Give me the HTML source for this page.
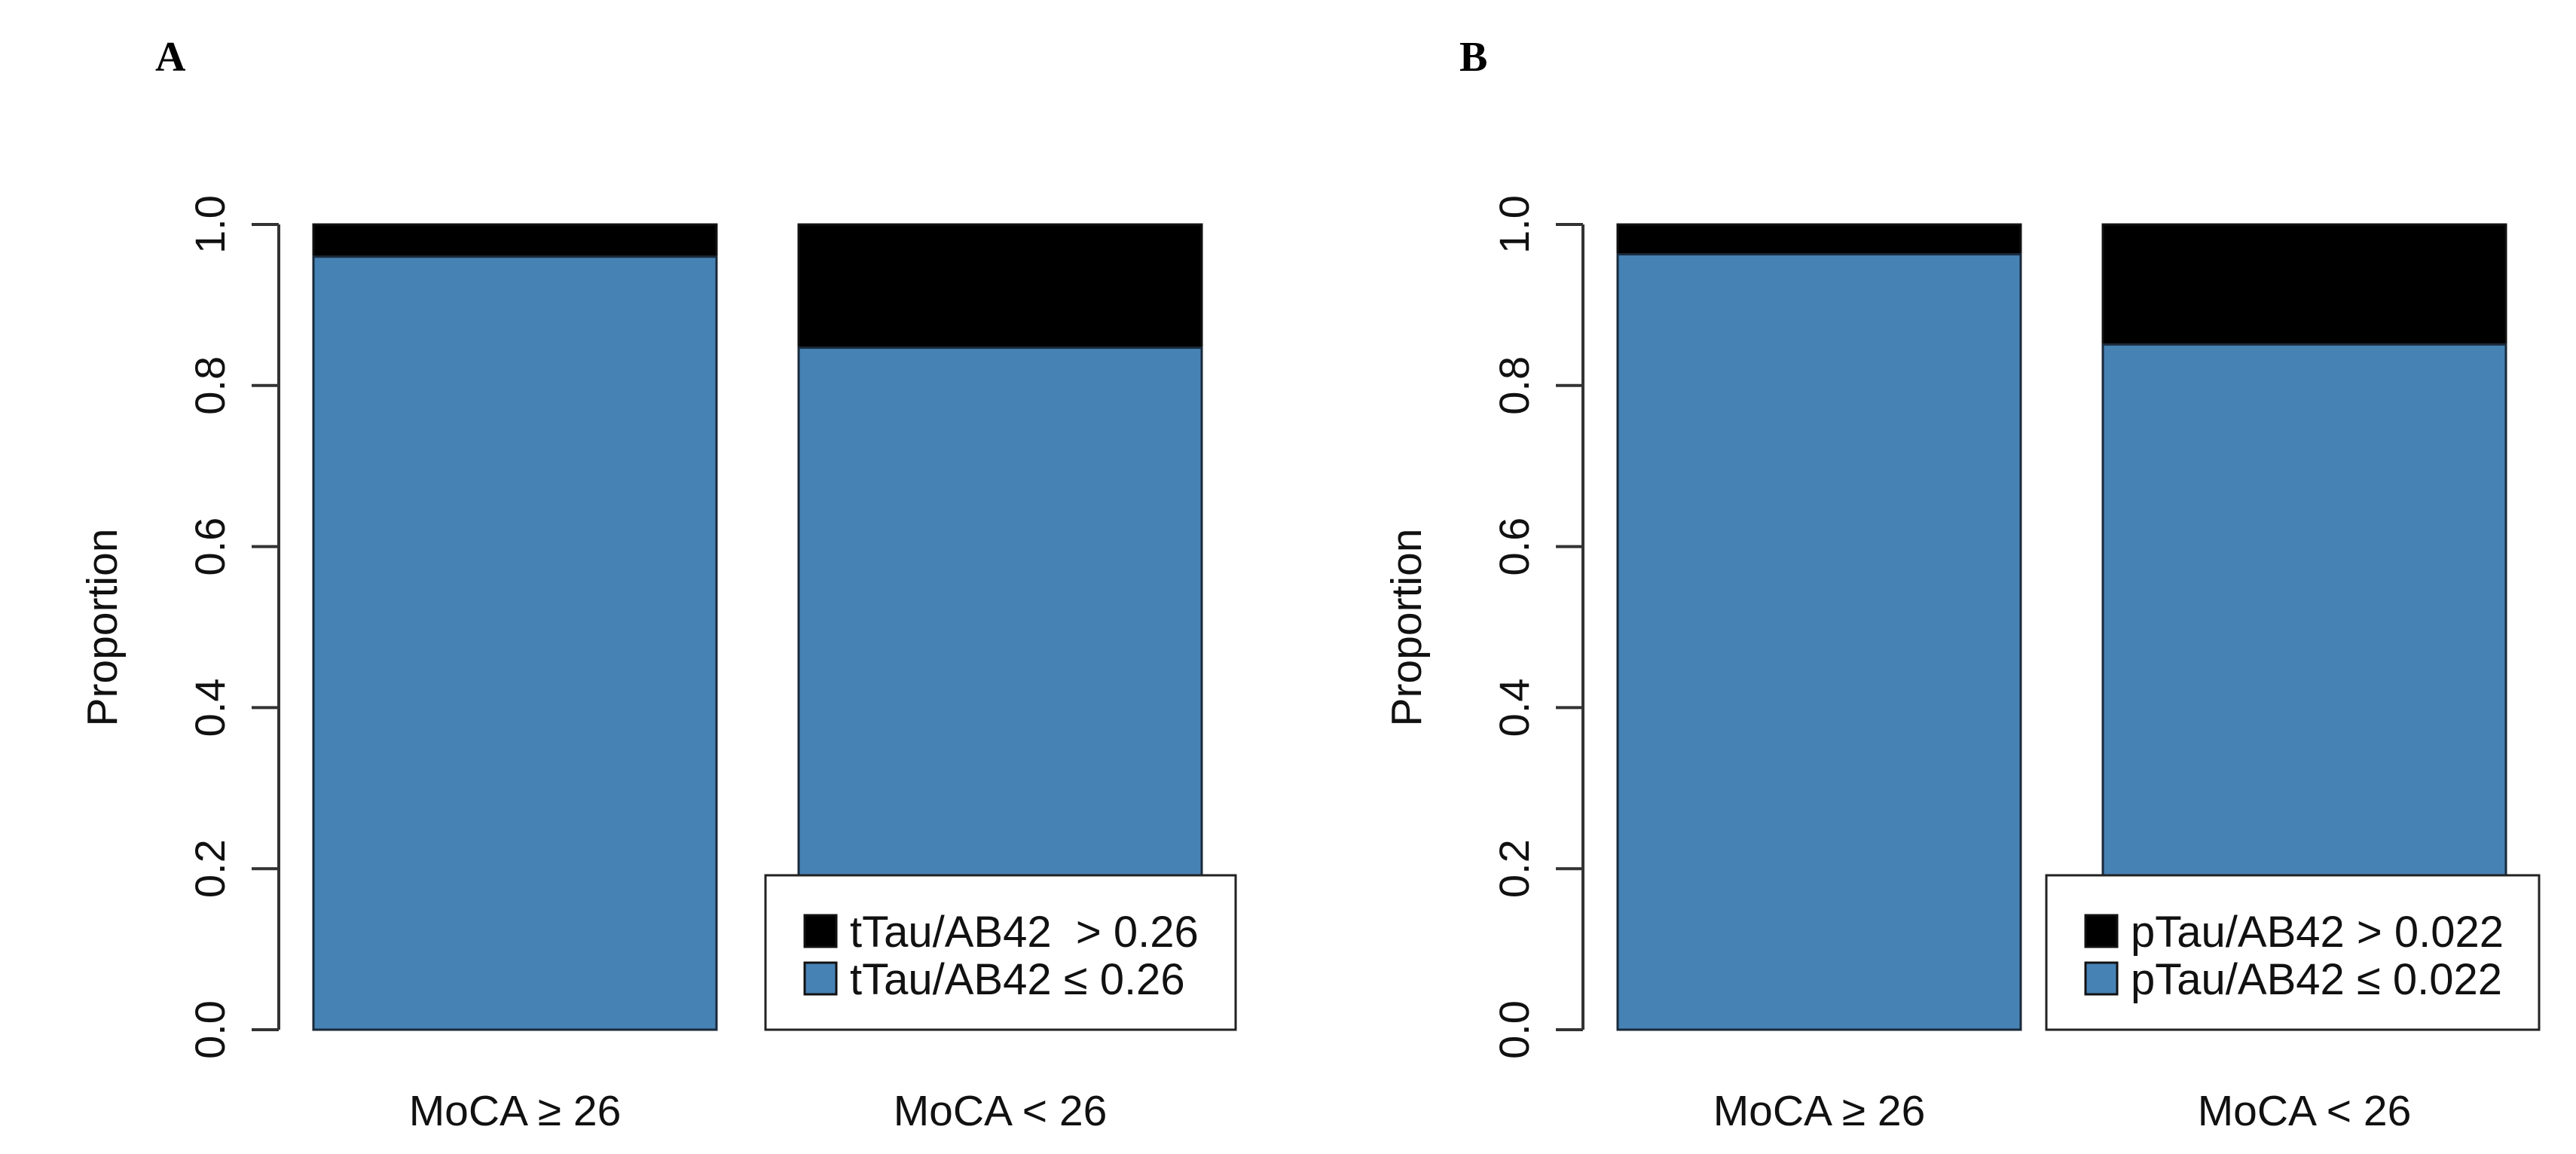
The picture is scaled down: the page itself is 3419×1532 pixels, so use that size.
<!DOCTYPE html>
<html><head><meta charset="utf-8"><style>
html,body{margin:0;padding:0;background:#fff;}
svg{display:block;font-family:"Liberation Sans",sans-serif;}
</style></head><body>
<svg id="chart" width="3419" height="1532" viewBox="0 0 3419 1532" xmlns="http://www.w3.org/2000/svg"></svg>
<script>
const categories = ["MoCA \u2265 26", "MoCA < 26"];
const panelALow = [0.96, 0.847];
const panelBLow = [0.963, 0.851];
const yTicks = [0, 0.2, 0.4, 0.6, 0.8, 1.0];
const tickLabels = ["0.0", "0.2", "0.4", "0.6", "0.8", "1.0"];
const legendA = ["tTau/AB42\u00a0\u00a0> 0.26", "tTau/AB42 \u2264 0.26"];
const legendB = ["pTau/AB42 > 0.022", "pTau/AB42 \u2264 0.022"];

const NS = "http://www.w3.org/2000/svg";
const svg = document.getElementById("chart");
function mk(tag, attrs, parent, text) {
  const e = document.createElementNS(NS, tag);
  for (const k in attrs) e.setAttribute(k, attrs[k]);
  if (text !== undefined) e.textContent = text;
  (parent || svg).appendChild(e);
  return e;
}
const Y0 = 1367, Y1 = 298;
function y(v) { return Y0 - v * (Y0 - Y1); }

function panel(off, letter, lows, legend, legW, name) {
  const g = mk("g", {});
  
  
  const lab = mk("text", {x: 206 + off, y: 94, "font-family": "Liberation Serif, serif", "font-weight": "bold", "font-size": 56}, g, letter);
  
  
  const ax = 370 + off;
  const axis = mk("g", {}, g);
  
  
  mk("line", {x1: ax, x2: ax, y1: y(0), y2: y(1), stroke: "#333", "stroke-width": 4}, axis);
  yTicks.forEach((t, i) => {
    mk("line", {x1: ax - 36, x2: ax, y1: y(t), y2: y(t), stroke: "#333", "stroke-width": 4}, axis);
    const tl = mk("text", {x: 0, y: 0, "font-size": 56, "text-anchor": "middle", transform: `translate(${ax - 72},${y(t)}) rotate(-90)`, fill: "#111"}, axis, tickLabels[i]);
    
    
  });
  const yt = mk("text", {x: 0, y: 0, "font-size": 57, "text-anchor": "middle", transform: `translate(${155 + off},833) rotate(-90)`, fill: "#111"}, g, "Proportion");
  
  
  const bx = [416, 1060], bw = 535;
  lows.forEach((v, i) => {
    const x = bx[i] + off;
    const hi = mk("rect", {x: x, y: y(1), width: bw, height: y(v) - y(1), fill: "#000", stroke: "#111", "stroke-width": 3}, g);
    
    
    const lo = mk("rect", {x: x, y: y(v), width: bw, height: y(0) - y(v), fill: "#4682B4", stroke: "#1a2a3a", "stroke-width": 3}, g);
    
    
    const xl = mk("text", {x: x + bw / 2, y: 1494, "font-size": 57, "text-anchor": "middle", fill: "#111"}, g, categories[i]);
    
    
  });
  const lx = (off ? 2716 : 1016);
  const leg = mk("g", {}, g);
  
  
  mk("rect", {x: lx, y: 1162, width: legW, height: 205, fill: "#fff", stroke: "#222", "stroke-width": 3}, leg);
  const cols = ["#000", "#4682B4"];
  legend.forEach((s, i) => {
    const cy = 1236 + i * 63;
    mk("rect", {x: lx + 52, y: cy - 21, width: 42, height: 42, fill: cols[i], stroke: "#111", "stroke-width": 3}, leg);
    const lt = mk("text", {x: lx + 112, y: cy + 21, "font-size": 58, fill: "#111"}, leg, s);
    
    
  });
}
panel(0, "A", panelALow, legendA, 624, "panel-a");
panel(1731, "B", panelBLow, legendB, 654, "panel-b");
</script>
</body></html>
